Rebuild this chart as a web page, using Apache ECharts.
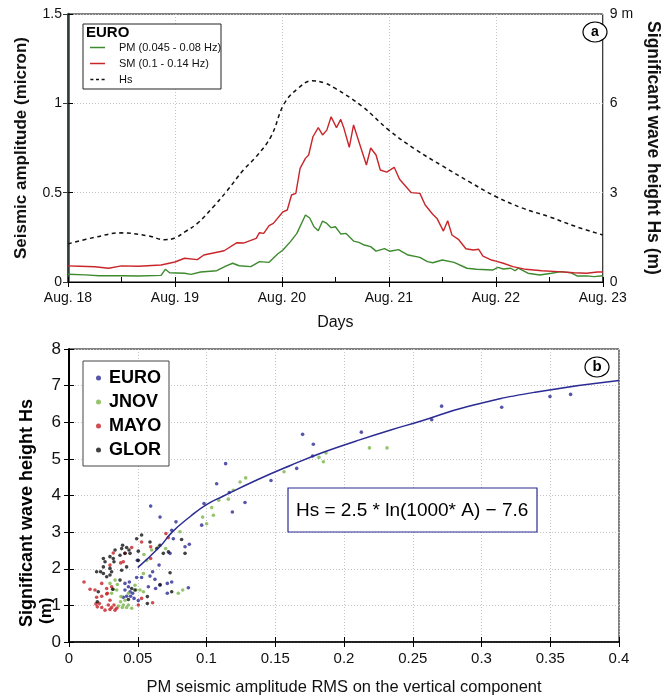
<!DOCTYPE html>
<html><head><meta charset="utf-8">
<script src="https://cdn.jsdelivr.net/npm/echarts@6/dist/echarts.min.js"></script>
<style>html,body{margin:0;padding:0;background:#fff}#c{width:670px;height:697px}</style>
</head><body><div id="c"></div>
<script>
// ---------- Panel (a) data ----------
const dayLabels = ['Aug. 18','Aug. 19','Aug. 20','Aug. 21','Aug. 22','Aug. 23'];
const pmSeries = [[0,0.043],[0.16,0.040],[0.29,0.035],[0.5,0.035],[0.66,0.034],[0.87,0.037],[0.91,0.071],[0.95,0.052],[1.09,0.049],[1.15,0.043],[1.24,0.056],[1.39,0.063],[1.48,0.090],[1.54,0.105],[1.60,0.091],[1.71,0.086],[1.79,0.114],[1.88,0.110],[1.96,0.157],[2.01,0.179],[2.08,0.226],[2.14,0.272],[2.22,0.375],[2.26,0.358],[2.30,0.309],[2.34,0.287],[2.38,0.341],[2.42,0.328],[2.46,0.304],[2.50,0.309],[2.55,0.269],[2.60,0.272],[2.67,0.229],[2.72,0.222],[2.77,0.207],[2.83,0.198],[2.88,0.173],[2.96,0.187],[3.01,0.172],[3.09,0.181],[3.18,0.151],[3.29,0.138],[3.36,0.114],[3.41,0.108],[3.50,0.123],[3.61,0.110],[3.73,0.077],[3.82,0.071],[3.97,0.067],[4.02,0.082],[4.07,0.073],[4.14,0.077],[4.18,0.063],[4.21,0.077],[4.30,0.049],[4.41,0.039],[4.52,0.049],[4.61,0.058],[4.70,0.052],[4.76,0.034],[4.85,0.034],[4.92,0.030],[5.0,0.035]];
const smSeries = [[0,0.090],[0.11,0.088],[0.25,0.085],[0.38,0.077],[0.5,0.090],[0.66,0.088],[0.87,0.095],[1.0,0.112],[1.09,0.133],[1.21,0.125],[1.27,0.151],[1.46,0.175],[1.58,0.220],[1.64,0.218],[1.76,0.244],[1.79,0.276],[1.83,0.272],[1.88,0.315],[1.92,0.328],[2.01,0.393],[2.05,0.403],[2.09,0.487],[2.13,0.496],[2.17,0.636],[2.22,0.692],[2.25,0.711],[2.29,0.813],[2.34,0.864],[2.38,0.823],[2.42,0.850],[2.46,0.925],[2.51,0.864],[2.55,0.910],[2.58,0.860],[2.63,0.754],[2.67,0.879],[2.72,0.785],[2.79,0.655],[2.83,0.750],[2.88,0.711],[2.92,0.627],[2.98,0.615],[3.05,0.642],[3.10,0.575],[3.21,0.500],[3.29,0.496],[3.34,0.431],[3.41,0.379],[3.45,0.356],[3.51,0.285],[3.55,0.343],[3.59,0.263],[3.65,0.239],[3.72,0.186],[3.79,0.179],[3.84,0.183],[3.88,0.145],[3.96,0.123],[4.0,0.117],[4.07,0.105],[4.16,0.086],[4.28,0.071],[4.43,0.063],[4.58,0.058],[4.73,0.052],[4.85,0.049],[4.95,0.056],[5.0,0.056]];
const hsSeries = [[0,1.28],[0.25,1.50],[0.5,1.65],[0.75,1.55],[0.9,1.42],[1.0,1.48],[1.1,1.70],[1.21,1.97],[1.36,2.53],[1.48,3.03],[1.64,3.76],[1.76,4.21],[1.9,4.90],[2.02,5.98],[2.15,6.50],[2.28,6.76],[2.4,6.68],[2.5,6.50],[2.75,5.90],[3.0,5.10],[3.25,4.45],[3.5,3.90],[3.75,3.37],[4.0,2.87],[4.25,2.48],[4.5,2.19],[4.75,1.86],[5.0,1.58]];

// ---------- Panel (b) data ----------
const xTickLabels = ['0','0.05','0.1','0.15','0.2','0.25','0.3','0.35','0.4'];
const euroPoints = [[0.0594,3.71],[0.0662,3.41],[0.0982,3.78],[0.0778,3.28],[0.0747,3.05],[0.0759,2.82],[0.0844,2.60],[0.0875,2.67],[0.0735,2.42],[0.0655,2.10],[0.0497,2.23],[0.0608,1.92],[0.0589,1.80],[0.0625,1.71],[0.0492,1.76],[0.0577,1.51],[0.0630,1.46],[0.0662,1.55],[0.0715,1.60],[0.0747,1.64],[0.0715,1.33],[0.0868,1.48],[0.0407,1.60],[0.0439,1.64],[0.0432,1.51],[0.0407,1.42],[0.0444,1.37],[0.0395,1.22],[0.0448,1.25],[0.0463,1.33],[0.0504,1.13],[0.0473,1.19],[0.0528,1.76],[0.0419,1.25],[0.0965,3.19],[0.1074,4.32],[0.1139,4.87],[0.1166,4.08],[0.1188,3.55],[0.1280,3.81],[0.1469,4.41],[0.1656,4.74],[0.1699,5.67],[0.1777,5.40],[0.1772,5.08],[0.2126,5.73],[0.2710,6.44],[0.3147,6.41],[0.3498,6.70],[0.3648,6.76],[0.2638,6.07]];
const jnovPoints = [[0.0972,3.41],[0.1001,3.23],[0.0807,3.01],[0.0703,2.55],[0.0650,2.60],[0.0601,2.51],[0.0545,2.39],[0.0565,2.23],[0.0541,1.87],[0.0335,1.69],[0.0298,1.60],[0.0352,1.57],[0.0322,1.44],[0.0347,1.42],[0.0310,1.33],[0.0378,1.24],[0.0407,1.14],[0.0375,1.10],[0.0395,1.01],[0.0432,1.01],[0.0388,0.94],[0.0419,0.94],[0.0359,0.98],[0.0456,0.92],[0.0480,1.55],[0.0516,1.42],[0.0541,1.37],[0.0487,1.42],[0.0795,1.33],[0.0827,1.42],[0.0432,1.33],[0.1038,3.67],[0.1050,3.46],[0.1089,3.87],[0.1159,3.90],[0.1195,4.14],[0.1244,4.37],[0.1285,4.48],[0.1564,4.65],[0.1818,5.04],[0.1850,4.92],[0.1869,5.16],[0.2185,5.30],[0.2313,5.30]];
const mayoPoints = [[0.0456,2.58],[0.0407,2.42],[0.0395,2.19],[0.0376,2.16],[0.0528,2.73],[0.0594,2.60],[0.0705,2.96],[0.0722,2.85],[0.0594,2.28],[0.0298,2.10],[0.0109,1.64],[0.0153,1.44],[0.0238,1.60],[0.0274,1.46],[0.0310,1.51],[0.0279,1.33],[0.0238,1.25],[0.0201,1.22],[0.0298,1.14],[0.0221,1.05],[0.0196,1.04],[0.0206,0.96],[0.0238,0.94],[0.0262,0.87],[0.0286,1.01],[0.0310,0.94],[0.0327,1.01],[0.0347,0.92],[0.0298,0.89],[0.0335,0.87],[0.0504,1.01],[0.0528,1.19],[0.0608,1.07],[0.0189,1.42],[0.0322,2.43],[0.0274,1.31]];
const glorPoints = [[0.0528,2.92],[0.0492,2.82],[0.0589,2.73],[0.0390,2.64],[0.0383,2.55],[0.0419,2.58],[0.0436,2.51],[0.0407,2.42],[0.0444,2.42],[0.0371,2.37],[0.0504,2.48],[0.0504,2.23],[0.0335,2.51],[0.0298,2.33],[0.0322,2.28],[0.0250,2.28],[0.0262,2.19],[0.0250,2.05],[0.0298,2.01],[0.0310,1.92],[0.0298,1.83],[0.0327,2.19],[0.0201,1.92],[0.0230,1.92],[0.0250,1.87],[0.0274,1.78],[0.0383,1.96],[0.0419,2.05],[0.0638,2.55],[0.0662,2.64],[0.0686,2.42],[0.0723,2.46],[0.0819,2.80],[0.0844,2.42],[0.0735,1.89],[0.0747,1.37],[0.0570,1.24],[0.0570,1.05],[0.0662,1.57],[0.0456,1.46],[0.0432,1.16],[0.0318,1.44],[0.0213,1.37],[0.0206,1.10],[0.0480,1.42],[0.0371,1.69]];
const fitCurve = [[0.05,2.03],[0.066,2.60],[0.075,3.00],[0.088,3.42],[0.1,3.75],[0.112,3.98],[0.137,4.43],[0.161,4.82],[0.185,5.18],[0.209,5.49],[0.234,5.79],[0.255,6.02],[0.29,6.43],[0.339,6.82],[0.4,7.14]];

const FONT = "'Liberation Sans', Arial, Helvetica, sans-serif";
const BLUE = '#2b2b94', GREEN = '#7ab648', RED = '#c42026', BLACK = '#111111';
const PMC = '#3d8a2f', SMC = '#c8262a';
const gridLine = {show:true, lineStyle:{color:'#c4c4c4', type:[1,2], width:1}};
const chart = echarts.init(document.getElementById('c'), null, {renderer:'canvas'});

function scatterSeries(name, pts, color){
  return {name, type:'scatter', xAxisIndex:2, yAxisIndex:3, data:pts, symbol:'circle', symbolSize:3.6,
    itemStyle:{color}, z:3, silent:true};
}
const solidIcon = 'path://M0,0h20v2h-20z';
const dashIcon = 'path://M0,0h4v2h-4z M7.5,0h4v2h-4z M15,0h4v2h-4z';

chart.setOption({
  animation:false,
  textStyle:{fontFamily:FONT},
  grid:[
    {left:68, top:14, width:546, height:268, show:true, borderColor:'#000', borderWidth:1, backgroundColor:'transparent'},
    {left:69, top:349, width:550, height:293, show:true, borderColor:'#000', borderWidth:1, backgroundColor:'transparent'}
  ],
  xAxis:[
    {gridIndex:0, type:'value', min:0, max:5, interval:1,
     axisLine:{lineStyle:{color:'#000',width:1}},
     axisTick:{inside:true, length:5, lineStyle:{color:'#000'}},
     minorTick:{show:true, splitNumber:2, length:5, lineStyle:{color:'#000'}},
     axisLabel:{color:'#111', fontSize:14, margin:9, formatter:v=>dayLabels[Math.round(v)]},
     splitLine:gridLine,
     name:'Days', nameLocation:'middle', nameGap:33, nameTextStyle:{fontSize:16, color:'#111'}},
    {gridIndex:0, type:'value', min:0, max:5, interval:1, position:'top',
     axisLine:{show:false}, axisTick:{inside:true, length:5, lineStyle:{color:'#000'}},
     axisLabel:{show:false}, splitLine:{show:false}},
    {gridIndex:1, type:'value', min:0, max:0.4, interval:0.05,
     axisLine:{lineStyle:{color:'#000',width:1.5}},
     axisTick:{inside:true, length:5, lineStyle:{color:'#000'}},
     axisLabel:{color:'#111', fontSize:15, margin:9, formatter:v=>xTickLabels[Math.round(v/0.05)]},
     splitLine:gridLine,
     name:'PM seismic amplitude RMS on the vertical component', nameLocation:'middle', nameGap:37,
     nameTextStyle:{fontSize:16.5, color:'#111'}},
    {gridIndex:1, type:'value', min:0, max:0.4, interval:0.05, position:'top',
     axisLine:{show:false}, axisTick:{inside:true, length:5, lineStyle:{color:'#000'}},
     axisLabel:{show:false}, splitLine:{show:false}}
  ],
  yAxis:[
    {gridIndex:0, type:'value', min:0, max:1.5, interval:0.5,
     axisLine:{show:true, lineStyle:{color:'#000',width:1}},
     axisTick:{show:true, inside:true, length:5, lineStyle:{color:'#000'}},
     axisLabel:{color:'#111', fontSize:14, margin:6, formatter:v=>String(v)},
     splitLine:gridLine,
     name:'Seismic amplitude (micron)', nameLocation:'middle', nameGap:38,
     nameTextStyle:{fontSize:17, fontWeight:'bold', color:'#111'}},
    {gridIndex:0, type:'value', min:0, max:9, interval:3, position:'right',
     axisLine:{show:true, lineStyle:{color:'#2f3a3a',width:2.5}},
     axisTick:{show:true, inside:true, length:5, lineStyle:{color:'#2f3a3a'}},
     axisLabel:{color:'#111', fontSize:14, margin:7, formatter:v=>(v===9?'9 m':String(v))},
     splitLine:{show:false},
     name:'Significant wave height Hs (m)', nameLocation:'middle', nameGap:31, nameRotate:-90,
     nameTextStyle:{fontSize:17.5, fontWeight:'bold', color:'#111'}},
    {gridIndex:1, type:'value', min:0, max:8, interval:1,
     axisLine:{show:true, lineStyle:{color:'#000',width:2}},
     axisTick:{show:true, inside:true, length:5, lineStyle:{color:'#000'}},
     axisLabel:{color:'#111', fontSize:17, margin:8},
     splitLine:gridLine},
    {gridIndex:1, type:'value', min:0, max:8, interval:1, position:'right',
     axisLine:{show:false}, axisTick:{show:true, inside:true, length:5, lineStyle:{color:'#000'}},
     axisLabel:{show:false}, splitLine:{show:false}}
  ],
  legend:[
    {left:90, top:41, orient:'vertical', itemWidth:19, itemHeight:1.5, itemGap:3, padding:0,
     textStyle:{fontSize:11, color:'#111', padding:[0,0,0,7], lineHeight:13},
     data:[{name:'PM (0.045 - 0.08 Hz)', icon:solidIcon, itemStyle:{color:PMC}},
           {name:'SM (0.1 - 0.14 Hz)', icon:solidIcon, itemStyle:{color:SMC}},
           {name:'Hs', icon:dashIcon, itemStyle:{color:'#111'}}],
     selectedMode:false},
    {left:96, top:368, orient:'vertical', itemWidth:5, itemHeight:5, itemGap:4, padding:0,
     textStyle:{fontSize:18, fontWeight:'bold', color:'#000', lineHeight:20, padding:[0,0,0,3]},
     icon:'circle', data:['EURO','JNOV','MAYO','GLOR'], selectedMode:false}
  ],
  series:[
    {name:'PM (0.045 - 0.08 Hz)', type:'line', xAxisIndex:0, yAxisIndex:0, data:pmSeries, showSymbol:false, symbol:'none',
     lineStyle:{color:PMC, width:1.4}, itemStyle:{color:PMC}, z:3},
    {name:'SM (0.1 - 0.14 Hz)', type:'line', xAxisIndex:0, yAxisIndex:0, data:smSeries, showSymbol:false, symbol:'none',
     lineStyle:{color:SMC, width:1.4}, itemStyle:{color:SMC}, z:3},
    {name:'Hs', type:'line', xAxisIndex:0, yAxisIndex:1, data:hsSeries, smooth:0.4, showSymbol:false, symbol:'none',
     lineStyle:{color:'#111', width:1.5, type:[4,3.5]}, itemStyle:{color:'#111'}, z:3},
    scatterSeries('EURO', euroPoints, BLUE),
    scatterSeries('JNOV', jnovPoints, GREEN),
    scatterSeries('MAYO', mayoPoints, RED),
    scatterSeries('GLOR', glorPoints, BLACK),
    {name:'fit', type:'line', xAxisIndex:2, yAxisIndex:3, data:fitCurve, smooth:0.5, showSymbol:false, symbol:'none',
     lineStyle:{color:BLUE, width:1.5}, z:4, silent:true}
  ],
  graphic:[
    {type:'rect', shape:{x:83, y:24, width:138, height:65}, style:{fill:'#fff', stroke:'#222', lineWidth:1}, z:1, silent:true},
    {type:'text', x:86, y:33, style:{text:'EURO', font:'bold 15px '+FONT, fill:'#000', verticalAlign:'middle'}, z:10},
    {type:'ellipse', shape:{cx:595, cy:32, rx:12, ry:10}, style:{fill:'#fff', stroke:'#000', lineWidth:1.2}, z:10},
    {type:'text', x:595, y:32, style:{text:'a', font:'bold 14px '+FONT, fill:'#000', align:'center', verticalAlign:'middle'}, z:11},
    {type:'rect', shape:{x:83, y:361, width:86, height:105}, style:{fill:'#fff', stroke:'#444', lineWidth:1}, z:1, silent:true},
    {type:'ellipse', shape:{cx:597, cy:367, rx:12, ry:10}, style:{fill:'#fff', stroke:'#000', lineWidth:1.2}, z:10},
    {type:'text', x:597, y:367, style:{text:'b', font:'bold 15px '+FONT, fill:'#000', align:'center', verticalAlign:'middle'}, z:11},
    {type:'rect', shape:{x:288, y:488, width:249, height:44}, style:{fill:'#fff', stroke:BLUE, lineWidth:1.2}, z:5},
    {type:'text', x:296, y:511, style:{text:'Hs = 2.5 * ln(1000* A) \u2212 7.6', font:'19px '+FONT, fill:'#000', verticalAlign:'middle'}, z:6},
    {type:'text', x:27, y:627, rotation:Math.PI/2, style:{text:'Significant wave height Hs', font:'bold 18px '+FONT, fill:'#000', align:'left', verticalAlign:'middle'}, z:10},
    {type:'text', x:46, y:624, rotation:Math.PI/2, style:{text:'(m)', font:'bold 17px '+FONT, fill:'#000', align:'left', verticalAlign:'middle'}, z:10}
  ]
});
</script></body></html>
